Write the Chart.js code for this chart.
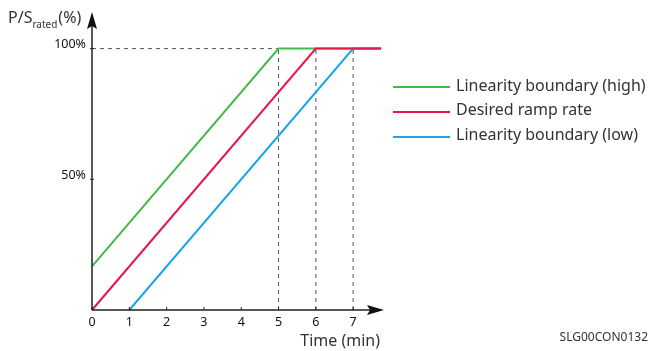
<!DOCTYPE html>
<html>
<head>
<meta charset="utf-8">
<script src="https://cdn.jsdelivr.net/npm/chart.js@4.4.0/dist/chart.umd.min.js"></script>
<style>
    html, body { margin: 0; background: #fff; }
</style>
</head>
<body>
<canvas id="ramp-chart" width="651" height="351"></canvas>
<script>
// data
const seriesNames = ['Linearity boundary (high)', 'Desired ramp rate', 'Linearity boundary (low)'];
const highTime = [0, 5, 7.75];
const highPower = [16.7, 100, 100];
const desiredTime = [0, 6, 7.75];
const desiredPower = [0, 100, 100];
const lowTime = [1, 7, 7.75];
const lowPower = [0, 100, 100];
const xTickLabels = ['0', '1', '2', '3', '4', '5', '6', '7'];
const yTickValues = [50, 100];
const yTickLabels = ['50%', '100%'];
const guideTimes = [5, 6, 7];

const colors = ['#45b94a', '#e3194b', '#1ba7e6'];
const FONT = '"Noto Sans", "Open Sans", sans-serif';

function toPoints(xs, ys) {
    return xs.map((x, i) => ({ x: x, y: ys[i] }));
}

const datasets = [
    { label: seriesNames[0], data: toPoints(highTime, highPower), borderColor: colors[0], order: 2 },
    { label: seriesNames[1], data: toPoints(desiredTime, desiredPower), borderColor: colors[1], order: 0 },
    { label: seriesNames[2], data: toPoints(lowTime, lowPower), borderColor: colors[2], order: 1 }
].map(d => Object.assign(d, { borderWidth: 2, pointRadius: 0, tension: 0, clip: false }));

// dashed guides: 100% level up to the first corner, then verticals at 5, 6, 7 min
datasets.push({
    label: 'guide-h',
    data: [{ x: 0, y: 100 }, { x: guideTimes[0], y: 100 }],
    borderColor: '#555', borderWidth: 1, borderDash: [4, 4], pointRadius: 0, order: 5
});
guideTimes.forEach(t => {
    datasets.push({
        label: 'guide-' + t,
        data: [{ x: t, y: 0 }, { x: t, y: 100 }],
        borderColor: '#555', borderWidth: 1, borderDash: [4, 4], pointRadius: 0, order: 5
    });
});

function arrow(ctx, tipX, tipY, dir) {
    ctx.beginPath();
    if (dir === 'up') {
        ctx.moveTo(tipX, tipY);
        ctx.lineTo(tipX - 5, tipY + 17);
        ctx.lineTo(tipX, tipY + 14);
        ctx.lineTo(tipX + 5, tipY + 17);
    } else {
        ctx.moveTo(tipX, tipY);
        ctx.lineTo(tipX - 17, tipY - 5);
        ctx.lineTo(tipX - 14, tipY);
        ctx.lineTo(tipX - 17, tipY + 5);
    }
    ctx.closePath();
    ctx.fill();
}

const axesPlugin = {
    id: 'axesPlugin',
    afterDatasetsDraw(chart) {
        const ctx = chart.ctx;
        const xs = chart.scales.x;
        const ys = chart.scales.y;
        const x0 = xs.getPixelForValue(0);
        const y0 = ys.getPixelForValue(0);
        const area = chart.chartArea;

        ctx.save();
        ctx.strokeStyle = '#222';
        ctx.fillStyle = '#111';
        ctx.lineWidth = 1.5;

        // axis lines
        ctx.beginPath();
        ctx.moveTo(x0, y0);
        ctx.lineTo(x0, area.top + 6);
        ctx.moveTo(x0, y0);
        ctx.lineTo(area.right - 6, y0);
        ctx.stroke();
        arrow(ctx, x0, area.top, 'up');
        arrow(ctx, area.right + 1, y0, 'right');

        // x ticks
        ctx.lineWidth = 1;
        ctx.font = '12.5px ' + FONT;
        ctx.textAlign = 'center';
        ctx.textBaseline = 'middle';
        xTickLabels.forEach((lab, i) => {
            const px = xs.getPixelForValue(i);
            ctx.beginPath();
            ctx.moveTo(px, y0 - 3);
            ctx.lineTo(px, y0);
            ctx.stroke();
            ctx.fillText(lab, px, y0 + 12);
        });

        // y ticks
        ctx.textAlign = 'right';
        yTickValues.forEach((v, i) => {
            const py = ys.getPixelForValue(v);
            ctx.beginPath();
            ctx.moveTo(x0 - 2, py);
            ctx.lineTo(x0 + 2, py);
            ctx.stroke();
            ctx.fillText(yTickLabels[i], x0 - 6, py - 4);
        });

        // axis titles
        ctx.fillStyle = '#333';
        ctx.font = '16px ' + FONT;
        ctx.textAlign = 'right';
        ctx.textBaseline = 'alphabetic';
        ctx.fillText('Time (min)', area.right - 3, 346);

        ctx.textAlign = 'left';
        let tx = 8;
        ctx.fillText('P/S', tx, 23);
        tx += ctx.measureText('P/S').width;
        ctx.font = '10px ' + FONT;
        ctx.fillText('rated', tx, 28);
        tx += ctx.measureText('rated').width + 1;
        ctx.font = '16px ' + FONT;
        ctx.fillText('(%)', tx, 23);

        // figure id
        ctx.font = '12px ' + FONT;
        ctx.textAlign = 'right';
        ctx.textBaseline = 'middle';
        ctx.fillText('SLG00CON0132', 648, 338);

        // legend
        const legendLineY = [87, 112, 137];
        const legendTextY = [86, 110, 135];
        ctx.font = '16px ' + FONT;
        ctx.textAlign = 'left';
        ctx.lineWidth = 2;
        seriesNames.forEach((name, i) => {
            ctx.strokeStyle = colors[i];
            ctx.beginPath();
            ctx.moveTo(393, legendLineY[i]);
            ctx.lineTo(450, legendLineY[i]);
            ctx.stroke();
            ctx.fillStyle = '#333';
            ctx.fillText(name, 456, legendTextY[i]);
        });
        ctx.restore();
    }
};

new Chart(document.getElementById('ramp-chart'), {
    type: 'line',
    data: { datasets: datasets },
    options: {
        responsive: false,
        animation: false,
        layout: { padding: { left: 92, right: 268, top: 12, bottom: 41 } },
        plugins: { legend: { display: false }, tooltip: { enabled: false } },
        scales: {
            x: { type: 'linear', min: 0, max: 7.8, display: false },
            y: { type: 'linear', min: 0, max: 114, display: false }
        }
    },
    plugins: [axesPlugin]
});
</script>
</body>
</html>
